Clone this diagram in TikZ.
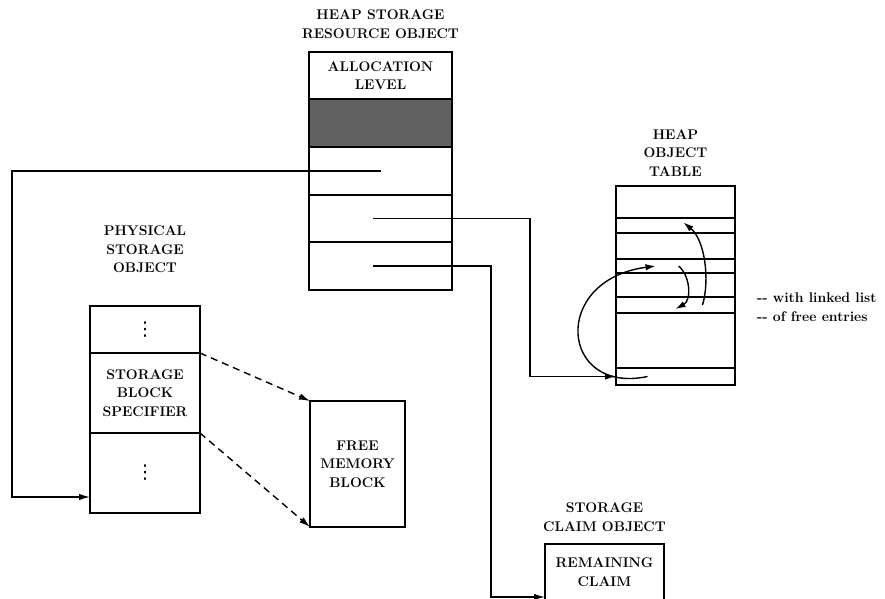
\documentclass[tikz,border=0pt]{standalone}
\usepackage{fontspec}
\newfontfamily\simbolos{DejaVu Sans}
\usepackage{tikz}
\usetikzlibrary{arrows.meta,calc,positioning}
\tikzset{
  celda/.style={draw=black,line width=1.4pt,inner sep=0pt,outer sep=0pt,align=center},
  rotulo/.style={align=center,inner sep=0pt},
  flecha/.style={line width=1.4pt,-{Latex[length=11pt,width=6.5pt]}},
  trazo/.style={line width=1.4pt,dash pattern=on 7pt off 5pt,-{Latex[length=11pt,width=6.5pt]}},
  lazo/.style={line width=1.4pt,-{Latex[length=10pt,width=6.5pt]}}
}
\newcommand{\puntos}{{\simbolos\mdseries\fontsize{19}{19}\selectfont ⋮}}

\begin{document}
\begin{tikzpicture}[x=1pt,y=-1pt,font=\fontsize{14}{18.5}\selectfont\bfseries]
\clip (0,0) rectangle (885,598);
% objeto recurso de heap
\node[rotulo] (tit1) at (380.5,24) {HEAP STORAGE\\RESOURCE OBJECT};
\node[celda,minimum width=143pt,minimum height=47pt] (aloc) at (380.5,75.5) {ALLOCATION\\LEVEL};
\node[celda,fill=black!62,minimum width=143pt,minimum height=48pt,below=0pt of aloc] (somb) {};
\node[celda,minimum width=143pt,minimum height=48pt,below=0pt of somb] (cA) {};
\node[celda,minimum width=143pt,minimum height=47pt,below=0pt of cA] (cB) {};
\node[celda,minimum width=143pt,minimum height=48pt,below=0pt of cB] (cC) {};
% objeto de almacenamiento fisico
\node[rotulo] (tit2) at (145,249.5) {PHYSICAL\\STORAGE\\OBJECT};
\node[celda,minimum width=110pt,minimum height=47pt] (fis1) at (145,329.5) {\puntos};
\node[celda,minimum width=110pt,minimum height=80pt,below=0pt of fis1] (fis2) {STORAGE\\BLOCK\\SPECIFIER};
\node[celda,minimum width=110pt,minimum height=80pt,below=0pt of fis2] (fis3) {\puntos};
\node[celda,minimum width=95pt,minimum height=126pt] (libre) at (357.5,464) {FREE\\MEMORY\\BLOCK};
% tabla de objetos
\node[rotulo] (tit3) at (675.5,153) {HEAP\\OBJECT\\TABLE};
\foreach \i/\c/\h in {1/202/32,2/225.5/15,3/246/26,4/266/14,5/285/24,6/305/16,7/340.5/55,8/376.5/17}
  \node[celda,minimum width=119pt,minimum height=\h pt] (tab\i) at (675.5,\c) {};
\node[rotulo,anchor=west,align=left] (nota) at (757,307) {-{}- with linked list\\-{}- of free entries};
% objeto de reclamo
\node[rotulo] (tit4) at (604.5,517) {STORAGE\\CLAIM OBJECT};
\node[celda,minimum width=119pt,minimum height=106pt] (recl) at (604.5,597) {};
\node[rotulo] (rem) at (604.5,572) {REMAINING\\CLAIM};
% conexiones
\coordinate (izq) at (12,0);
\coordinate (codo1) at (530,0);
\coordinate (codo2) at (491,0);
\coordinate (sB) at ([xshift=-8pt]cB.center);
\coordinate (sC) at ([xshift=-8pt]cC.center);
\draw[flecha] (cA.center) -- (cA.center -| izq) |- ([yshift=-24pt]fis3.west);
\draw[flecha] (sB) -- (sB -| codo1) |- (tab8.west);
\draw[flecha] (sC) -- (sC -| codo2) |- (recl.west);
\draw[trazo] (fis2.north east) -- (libre.north west);
\draw[trazo] (fis2.south east) -- (libre.south west);
% lista enlazada de entradas libres
\draw[lazo] ([xshift=-28pt]tab8.center) .. controls (560,395) and (550,280) .. ([xshift=-20pt]tab4.center);
\draw[lazo] ([xshift=3pt]tab4.center) .. controls (690,275) and (692,300) .. ([yshift=4pt]tab6.south);
\draw[lazo] ([xshift=27pt]tab6.center) .. controls (710,280) and (705,240) .. ([xshift=8pt,yshift=3pt]tab2.center);
\end{tikzpicture}
\end{document}
